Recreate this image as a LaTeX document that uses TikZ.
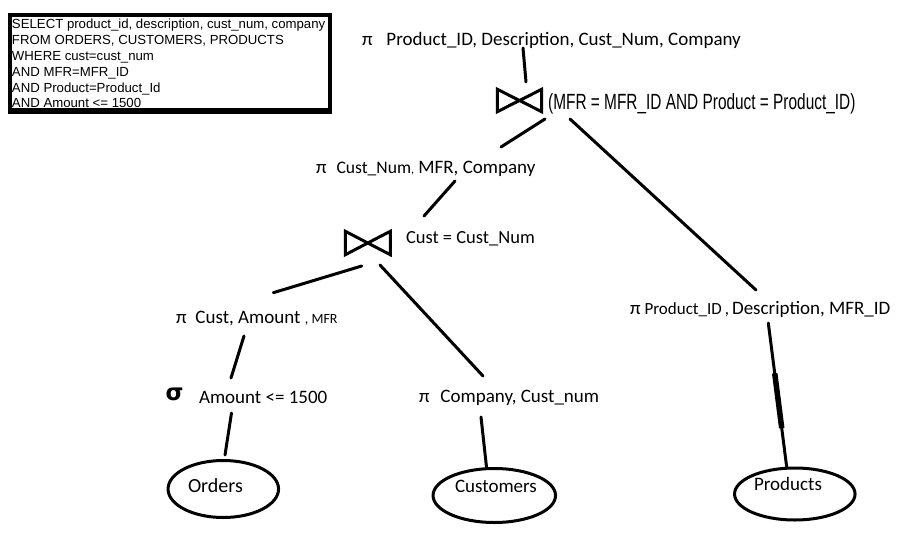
\documentclass[tikz,border=0pt]{standalone}
\usepackage{fontspec}
\setmainfont{Carlito}
\newfontfamily\arialf{Liberation Sans}
\newfontfamily\djv{DejaVu Sans}
\usetikzlibrary{shapes.geometric,calc}
\begin{document}
\begin{tikzpicture}[x=1pt,y=-1pt,
  lbl/.style={anchor=base west, inner sep=0pt, outer sep=0pt, font=\fontsize{19}{21}\selectfont},
  sqltxt/.style={anchor=base west, inner sep=0pt, outer sep=0pt, font=\arialf\fontsize{13.2}{14}\selectfont},
  conn/.style={line width=3pt, line cap=round},
  rel/.style={ellipse, draw, line width=3pt, inner sep=0pt},
  bowtie/.style={inner sep=0pt, minimum width=44pt, minimum height=22pt},
  bowline/.style={line width=3pt, line join=miter}
]
\useasboundingbox (0,0) rectangle (898,533);
\fill[white] (0,0) rectangle (898,533);

% SQL box
\fill[black] (8,13) rectangle (332,114);
\fill[white] (12,17) rectangle (328,107.5);
\node[sqltxt] (s1) at (12,28) {SELECT product\_id, description, cust\_num, company};
\node[sqltxt] (s2) at (12,44) {FROM ORDERS, CUSTOMERS, PRODUCTS};
\node[sqltxt] (s3) at (12,60) {WHERE cust=cust\_num};
\node[sqltxt] (s4) at (12,76) {AND MFR=MFR\_ID};
\node[sqltxt] (s5) at (12,92) {AND Product=Product\_Id};
\begin{scope}
\clip (12,17) rectangle (328,107.5);
\node[sqltxt] (s6) at (12,107.5) {AND Amount <= 1500};
\end{scope}

% top projection
\node[lbl] (p1) at (362,45) {π\hspace{14pt}Product\_ID, Description, Cust\_Num, Company};

% top join
\node[bowtie] (j1) at (519.5,100.5) {};
\draw[bowline] (j1.north west) -- (j1.south east) -- (j1.north east) -- (j1.south west) -- cycle;
\node[anchor=base west, inner sep=0pt] (j1l) at (548,109)
  {\scalebox{0.70}[1]{\arialf\fontsize{22}{24}\selectfont(MFR = MFR\_ID AND Product = Product\_ID)}};

% pi Cust_Num
\node[lbl] (p2) at (316,173) {π\hspace{10pt}{\fontsize{17.6}{19}\selectfont Cust\_Num}{\fontsize{12}{14}\selectfont,} MFR, Company};

% second join
\node[bowtie, minimum width=44.5pt, minimum height=23pt] (j2) at (367.8,243) {};
\draw[bowline] (j2.north west) -- (j2.south east) -- (j2.north east) -- (j2.south west) -- cycle;
\node[lbl, font=\fontsize{18.5}{20}\selectfont] (j2l) at (406,243) {Cust = Cust\_Num};

% pi Cust, Amount
\node[lbl] (p3) at (176,323) {π\hspace{9pt}Cust, Amount {\fontsize{14}{16}\selectfont, MFR}};

% sigma
\node[anchor=base west, inner sep=0pt] (sg) at (165.5,400.5) {\djv\bfseries\fontsize{23}{24}\selectfont σ};
\node[lbl] (sgl) at (199,403) {Amount <= 1500};

% pi Company
\node[lbl] (p4) at (419,402) {π\hspace{11pt}Company, Cust\_num};

% pi Product_ID
\node[lbl] (p5) at (630,314) {π\hspace{4pt}{\fontsize{17}{18}\selectfont Product\_ID\hspace{3pt},}\hspace{3pt}Description, MFR\_ID};

% relations
\node[rel, minimum width=110.5pt, minimum height=57pt] (orders) at (223.3,489) {};
\node[lbl, font=\fontsize{20}{22}\selectfont] (ordersl) at (188,492) {Orders};
\node[rel, minimum width=122.5pt, minimum height=54pt] (cust) at (494.3,495.5) {};
\node[lbl] (custl) at (455,492) {Customers};
\node[rel, minimum width=120.5pt, minimum height=52pt] (prod) at (794.8,494) {};
\node[lbl] (prodl) at (754,490) {Products};

% connector end points
\coordinate (p1b) at (523,48);
\coordinate (j1t) at (526,82);
\coordinate (j1bl) at (545,119);
\coordinate (p2t) at (501,147);
\coordinate (j1br) at (570,119);
\coordinate (p5t) at (756,290);
\coordinate (p2b) at (455,181);
\coordinate (j2t) at (424,216);
\coordinate (j2bl) at (361.7,266);
\coordinate (p3t) at (273.3,292.7);
\coordinate (j2br) at (380,265);
\coordinate (p4t) at (483,376);
\coordinate (p3b) at (244,336);
\coordinate (sgt) at (231,378);
\coordinate (sgb) at (231.5,413);
\coordinate (ordt) at (225,455);
\coordinate (p4b) at (481,417);
\coordinate (custt) at (486.5,467);
\coordinate (p5b) at (768.3,323);
\coordinate (prodt) at (786.7,467);

\draw[conn] (p1b) -- (j1t);
\draw[conn] (j1bl) -- (p2t);
\draw[conn] (j1br) -- (p5t);
\draw[conn] (p2b) -- (j2t);
\draw[conn] (j2bl) -- (p3t);
\draw[conn] (j2br) -- (p4t);
\draw[conn] (p3b) -- (sgt);
\draw[conn] (sgb) -- (ordt);
\draw[conn] (p4b) -- (custt);
\draw[conn] (p5b) -- (prodt);
\draw[line width=5.5pt] ($(p5b)!0.35!(prodt)$) -- ($(p5b)!0.73!(prodt)$);
\end{tikzpicture}
\end{document}
